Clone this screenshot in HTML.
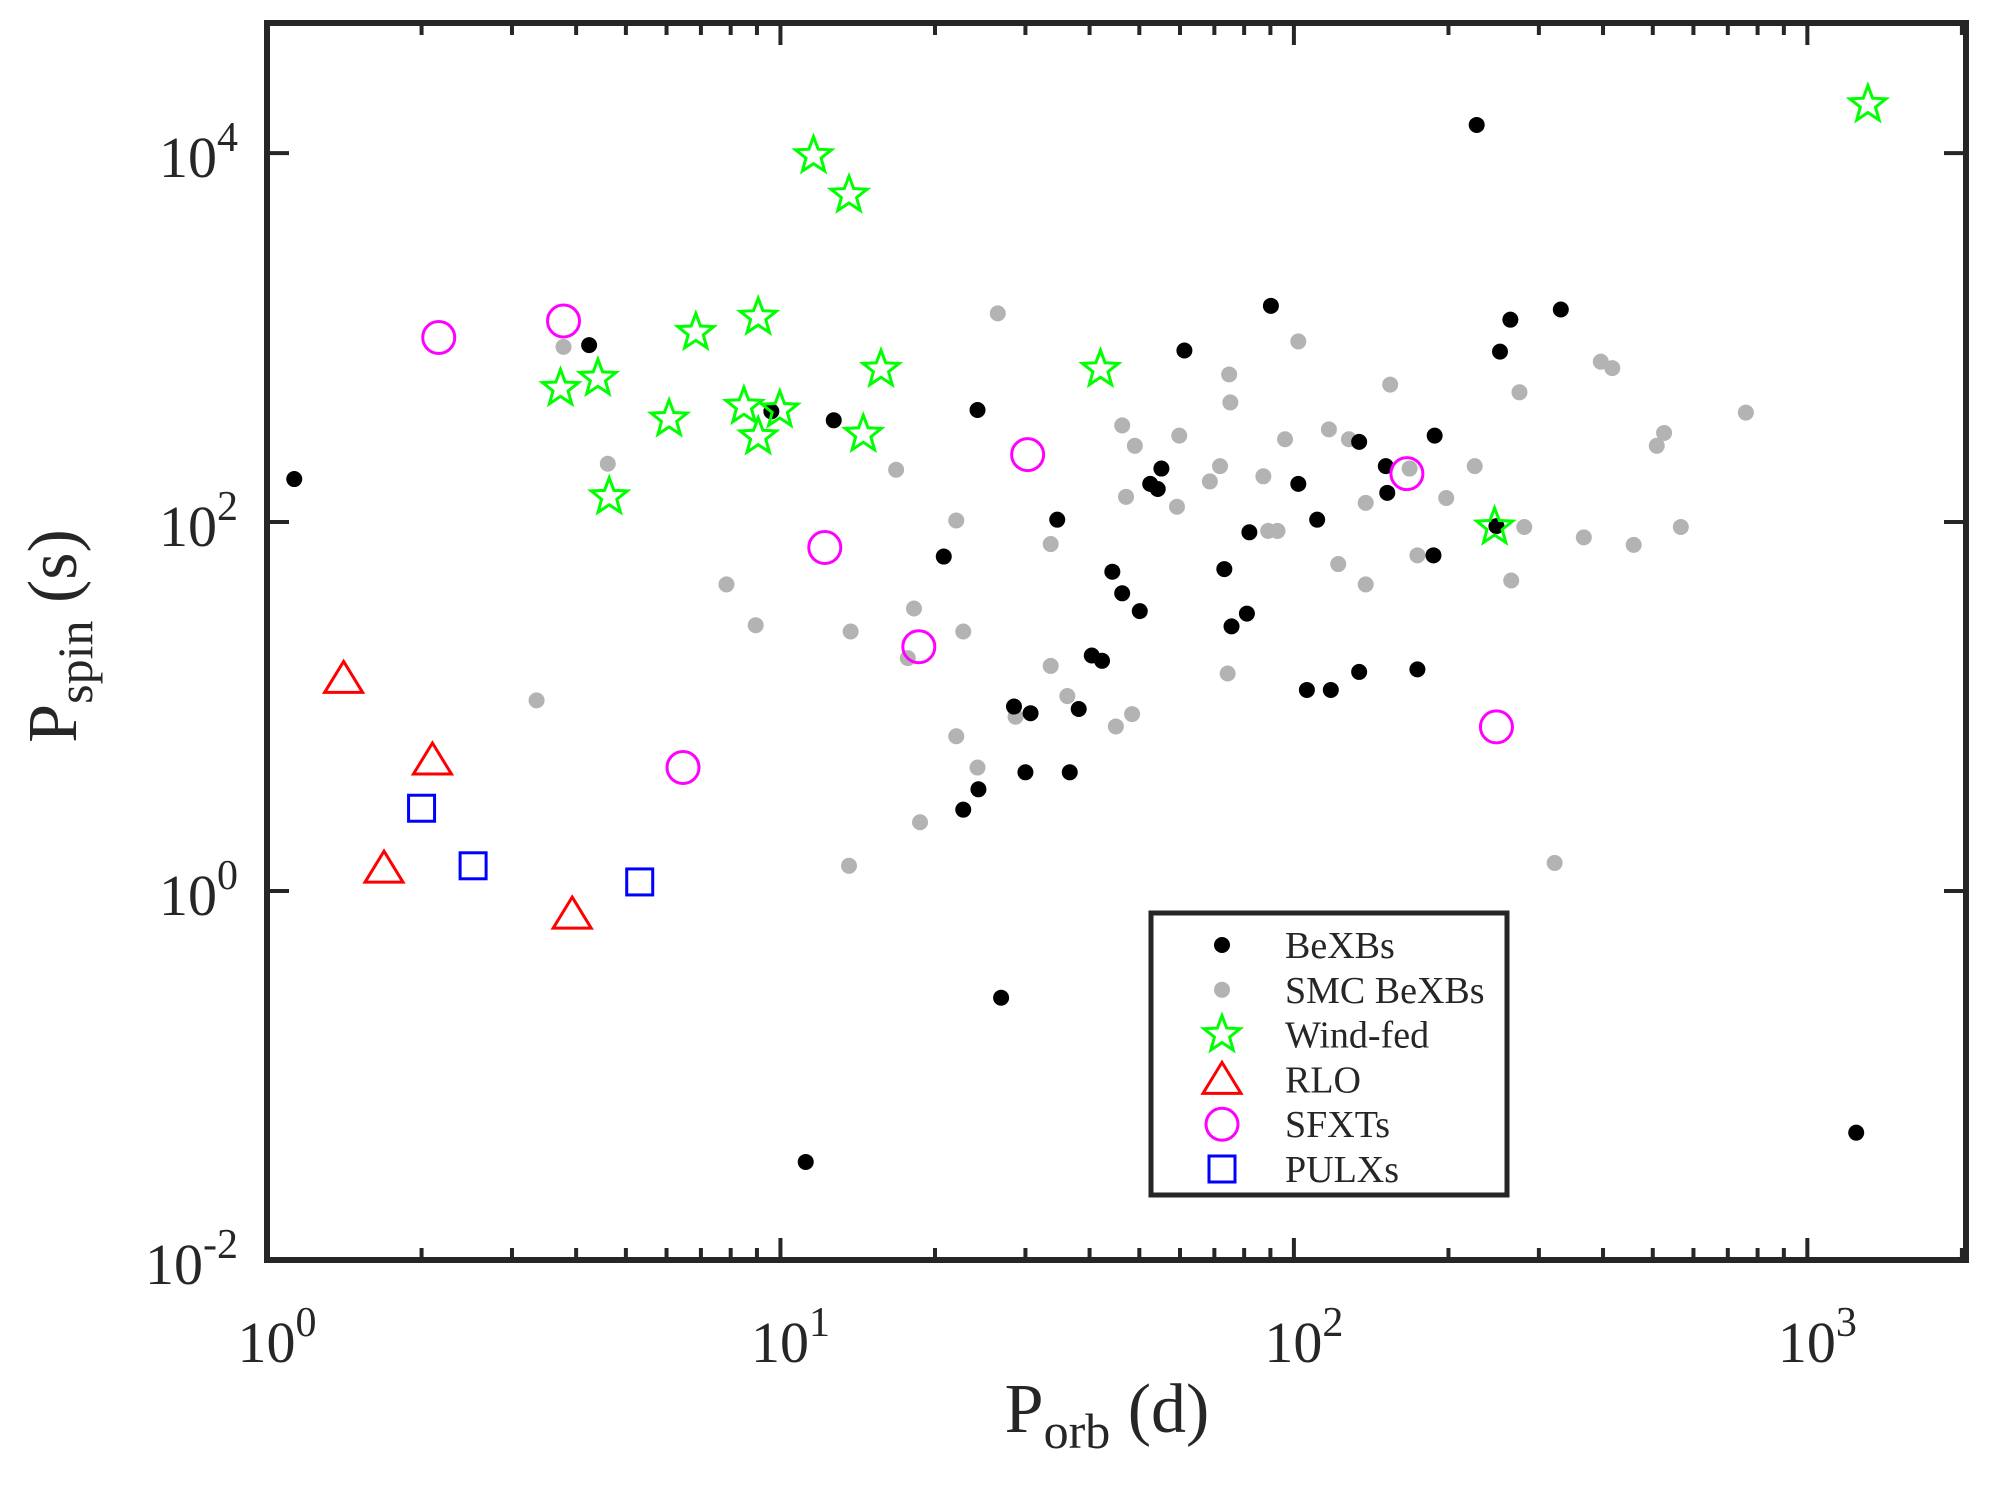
<!DOCTYPE html>
<html><head><meta charset="utf-8"><style>
html,body{margin:0;padding:0;background:#fff}
svg{display:block;font-family:"Liberation Serif",serif}
</style></head><body>
<svg id="chart" width="1995" height="1494" viewBox="0 0 1995 1494" xmlns="http://www.w3.org/2000/svg">
<g id="marks"></g>
<g id="axes"></g>
</svg>
<script>
const beX=[1.13,4.24,9.6,12.7,24.2,20.8,34.6,28.5,30.7,30,36.6,38.1,24.3,22.7,26.9,40.4,42.3,44.3,46.3,50.1,52.5,54.3,55.2,61.2,73.2,75.6,81,81.9,90.2,102,111,106,118,134,134,151,152,187,188,174,227,248,252,264,331,1245,11.2];
const beY=[171,910,398,356,405,65,103,10,9.2,4.4,4.4,9.7,3.56,2.76,0.264,18.9,17.7,53.8,41.1,32.9,161,151,195,851,55.6,27.2,31.9,88,1486,161,103,12.3,12.3,15.4,272,201,144,66,294,15.9,14200,95,839,1250,1419,0.049,0.034];
const smcX=[3.78,4.61,3.35,7.85,8.95,13.7,13.6,16.8,18.2,17.7,18.7,22,22.7,22,24.2,26.5,28.7,33.6,33.6,36.2,45,48.4,46.3,49,47.1,59.2,59.8,68.6,71.8,74.8,75.2,74.3,87.2,89.1,92.9,96.1,102,117,122,128,138,138,154,168,174,198,225,265,275,281,322,367,396,417,459,509,526,567,759];
const smcY=[890,207,10.8,45.9,27.6,25.5,1.37,192,34,18.3,2.36,102,25.5,6.9,4.67,1352,8.8,76,16.6,11.4,7.8,9.1,334,259,137,121,294,166,201,631,445,15.1,177,89.5,89.5,281,953,318,59.2,281,127,45.9,556,195,66,135,201,48.2,505,94,1.42,82.6,740,683,75.2,259,304,94,392];
const windX=[11.6,13.6,9.05,6.84,4.41,3.73,6.07,8.49,9.97,9.05,14.5,15.7,4.64,42,246,1312];
const windY=[9680,5920,1290,1066,601,530,362,424,405,290,299,673,137,673,94,18300];
const rloX=[1.41,2.1,1.69,3.93];
const rloY=[14.2,5.13,1.33,0.75];
const sfxtX=[2.16,3.78,30.3,12.2,18.6,6.46,166,248];
const sfxtY=[1000,1230,232,72.8,21.1,4.67,183,7.76];
const pulxX=[2.0,2.52,5.32];
const pulxY=[2.81,1.37,1.12];
const xTickExp=[0,1,2,3];
const yTickExp=[-2,0,2,4];

const L=267,R=1966,T=23,B=1260;
const XMIN=0,XMAX=3.309,YMIN=-2,YMAX=4.705;
const sx=v=>L+(Math.log10(v)-XMIN)/(XMAX-XMIN)*(R-L);
const sy=v=>B-(Math.log10(v)-YMIN)/(YMAX-YMIN)*(B-T);
const NS="http://www.w3.org/2000/svg";
const marks=document.getElementById('marks'), axes=document.getElementById('axes');
function mk(tag,attrs,parent){const e=document.createElementNS(NS,tag);for(const k in attrs)e.setAttribute(k,attrs[k]);parent.appendChild(e);return e;}
function starPath(cx,cy,r){let d='';for(let i=0;i<10;i++){const rr=i%2?r*0.42:r;const a=-Math.PI/2+i*Math.PI/5;d+=(i?'L':'M')+(cx+rr*Math.cos(a)).toFixed(1)+' '+(cy+rr*Math.sin(a)).toFixed(1);}return d+'Z';}
function drawMarker(type,cx,cy,parent){
  let e;
  if(type==='be'){e=mk('circle',{cx,cy,r:8,fill:'#000'},parent);}
  else if(type==='smc'){e=mk('circle',{cx,cy,r:8,fill:'#b3b3b3'},parent);}
  else if(type==='wind'){e=mk('path',{d:starPath(cx,cy,19),fill:'none',stroke:'#00ff00','stroke-width':3},parent);}
  else if(type==='rlo'){e=mk('path',{d:`M${cx} ${cy-17}L${cx+19} ${cy+14}L${cx-19} ${cy+14}Z`,fill:'none',stroke:'#ff0000','stroke-width':3},parent);}
  else if(type==='sfxt'){e=mk('circle',{cx,cy,r:16,fill:'none',stroke:'#ff00ff','stroke-width':3},parent);}
  else {e=mk('rect',{x:cx-13,y:cy-13,width:26,height:26,fill:'none',stroke:'#0000ff','stroke-width':3},parent);}
  return e;
}
function series(type,xs,ys,name){
  const g=mk('g',{},marks);
  
  
  xs.forEach((x,i)=>{const e=drawMarker(type,sx(x),sy(ys[i]),g);
    
    });
}
series('smc',smcX,smcY,'smc-bexb');
series('be',beX,beY,'bexb');
series('wind',windX,windY,'wind-fed');
series('rlo',rloX,rloY,'rlo');
series('sfxt',sfxtX,sfxtY,'sfxt');
series('pulx',pulxX,pulxY,'pulx');

const fr=mk('rect',{x:L,y:T,width:R-L,height:B-T,fill:'none',stroke:'#262626','stroke-width':6},axes);


for(let d=0;d<=3;d++)for(let m=1;m<=9;m++){const v=m*Math.pow(10,d);if(Math.log10(v)>XMAX)continue;const x=sx(v);const len=m===1?22:12;
  mk('line',{x1:x,y1:B,x2:x,y2:B-len,stroke:'#262626','stroke-width':4},axes);
  mk('line',{x1:x,y1:T,x2:x,y2:T+len,stroke:'#262626','stroke-width':4},axes);}
yTickExp.forEach(p=>{const y=sy(Math.pow(10,p));
  mk('line',{x1:L,y1:y,x2:L+22,y2:y,stroke:'#262626','stroke-width':4},axes);
  mk('line',{x1:R,y1:y,x2:R-22,y2:y,stroke:'#262626','stroke-width':4},axes);});
xTickExp.forEach(p=>{const t=mk('text',{x:sx(Math.pow(10,p))+10,y:1362,'text-anchor':'middle','font-size':58,fill:'#262626'},axes);
  
  
  t.innerHTML='10<tspan dy="-26" font-size="42">'+p+'</tspan>';});
yTickExp.forEach(p=>{const t=mk('text',{x:238,y:sy(Math.pow(10,p))+24,'text-anchor':'end','font-size':58,fill:'#262626'},axes);
  
  
  t.innerHTML='10<tspan dy="-26" font-size="42">'+p+'</tspan>';});
const xl=mk('text',{x:1107,y:1432,'text-anchor':'middle','font-size':70,fill:'#262626'},axes);


xl.innerHTML='P<tspan dy="16" font-size="50">orb</tspan><tspan dy="-16"> (d)</tspan>';
const yl=mk('text',{x:0,y:0,'text-anchor':'middle','font-size':70,fill:'#262626',transform:'translate(76,636) rotate(-90)'},axes);


yl.innerHTML='P<tspan dy="16" font-size="50">spin</tspan><tspan dy="-16"> (s)</tspan>';
const lg=mk('g',{},axes);


mk('rect',{x:1151,y:913,width:356,height:282,fill:'#fff',stroke:'#262626','stroke-width':5},lg);
const legTypes=['be','smc','wind','rlo','sfxt','pulx'];
const legLabels=['BeXBs','SMC BeXBs','Wind-fed','RLO','SFXTs','PULXs'];
legTypes.forEach((t,i)=>{const y=945+i*44.8;
  const g=mk('g',{},lg);
  
  
  drawMarker(t,1222,y,g);
  const tx=mk('text',{x:1285,y:y+13,'font-size':38,fill:'#262626'},g);tx.textContent=legLabels[i];});
</script>
</body></html>
